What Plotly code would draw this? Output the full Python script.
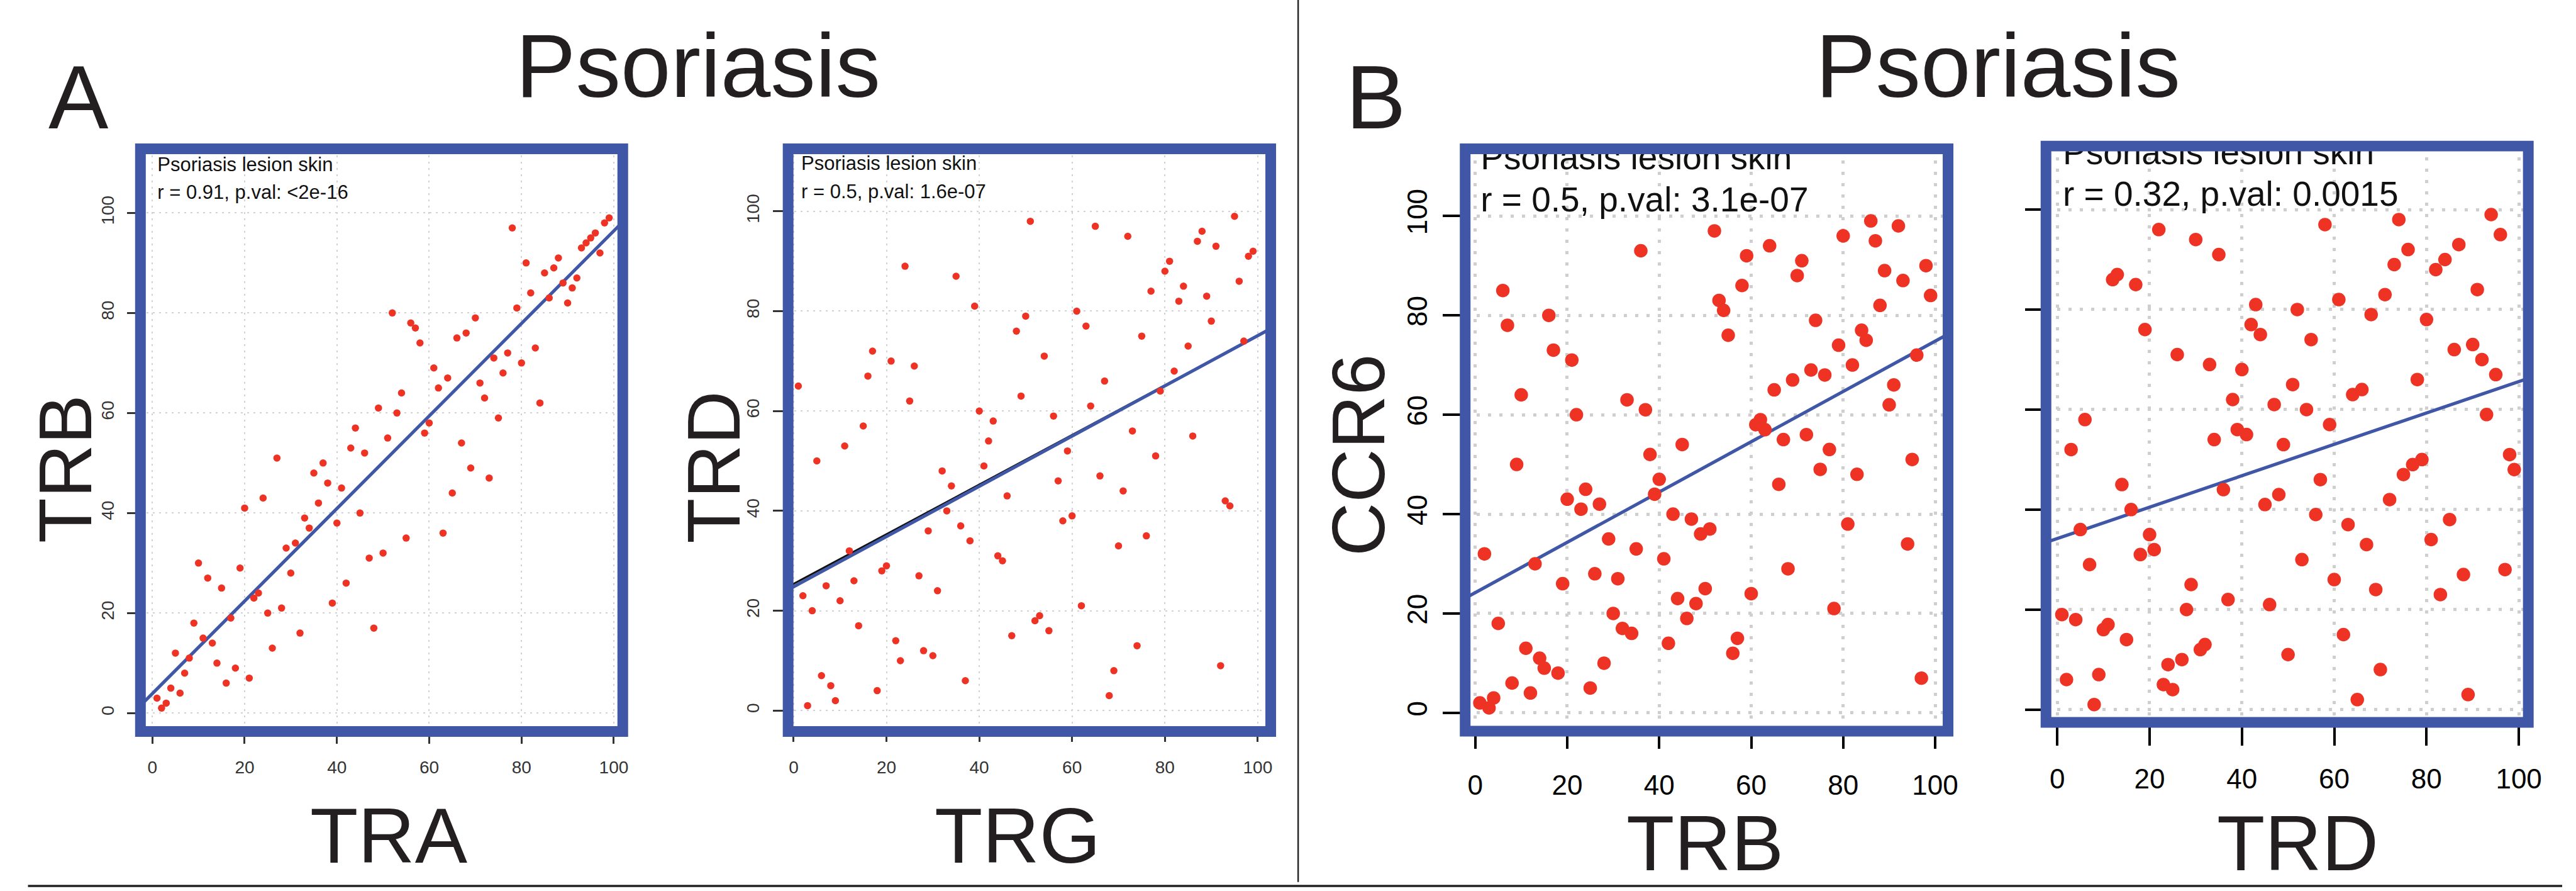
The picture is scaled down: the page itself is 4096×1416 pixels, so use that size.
import plotly.graph_objects as go

# ---------------- data (percentile ranks) ----------------
rank_x = [1, 2, 3, 4, 5, 6, 7, 8, 9, 10, 11, 12, 13, 14, 15, 16, 17, 18, 19, 20,
          21, 22, 23, 24, 25, 26, 27, 28, 29, 30, 31, 32, 33, 34, 35, 36, 37, 38, 39, 40,
          41, 42, 43, 44, 45, 46, 47, 48, 49, 50, 51, 52, 53, 54, 55, 56, 57, 58, 59, 60,
          61, 62, 63, 64, 65, 66, 67, 68, 69, 70, 71, 72, 73, 74, 75, 76, 77, 78, 79, 80,
          81, 82, 83, 84, 85, 86, 87, 88, 89, 90, 91, 92, 93, 94, 95, 96, 97, 98, 99]

trb_vs_tra = [3, 1, 2, 5, 12, 4, 8, 11, 18, 30, 15, 27, 14, 10, 25, 6, 19, 9, 29, 41,
              7, 23, 24, 43, 20, 13, 51, 21, 33, 28, 34, 16, 39, 37, 48, 42, 50, 46, 22, 38,
              45, 26, 53, 57, 40, 52, 31, 17, 61, 32, 55, 80, 60, 64, 35, 78, 77, 74, 56, 58,
              69, 65, 36, 67, 44, 75, 54, 76, 49, 79, 66, 63, 47, 71, 59, 68, 72, 97, 81, 70,
              90, 84, 73, 62, 88, 83, 89, 91, 86, 82, 85, 87, 93, 94, 95, 96, 92, 98, 99]

trd_vs_trg = [65, 23, 1, 20, 50, 7, 25, 5, 2, 22, 53, 32, 26, 17, 57, 67, 72, 4, 28, 29,
              70, 14, 10, 89, 62, 69, 27, 12, 36, 11, 24, 48, 40, 45, 87, 37, 6, 34, 81, 60,
              49, 54, 58, 31, 30, 43, 15, 76, 63, 79, 98, 18, 19, 71, 16, 59, 46, 38, 52, 39,
              80, 21, 77, 61, 97, 47, 66, 3, 8, 33, 44, 95, 56, 13, 75, 35, 84, 51, 64, 88,
              90, 68, 82, 85, 73, 55, 94, 96, 83, 78, 93, 9, 42, 41, 99, 86, 74, 91, 92]

ccr6_vs_trb = [2, 32, 1, 3, 18, 85, 78, 6, 50, 64, 13, 4, 30, 11, 9, 80, 73, 8, 26, 43,
               71, 60, 41, 45, 5, 28, 42, 10, 35, 20, 27, 17, 63, 16, 33, 93, 61, 52, 44, 47,
               31, 14, 40, 23, 54, 19, 39, 22, 36, 25, 37, 97, 83, 81, 76, 12, 15, 86, 92, 24,
               58, 59, 57, 94, 65, 46, 55, 29, 67, 88, 91, 56, 69, 79, 49, 68, 53, 21, 74, 96,
               38, 70, 48, 77, 75, 99, 95, 82, 89, 62, 66, 98, 87, 34, 51, 72, 7, 90, 84]

ccr6_vs_trd = [19, 6, 52, 18, 36, 58, 29, 1, 7, 16, 17, 86, 87, 45, 14, 40, 85, 31, 76, 35,
               32, 96, 5, 9, 4, 71, 10, 20, 25, 94, 12, 13, 69, 54, 91, 44, 22, 62, 56, 68,
               55, 77, 81, 75, 41, 21, 61, 43, 53, 11, 65, 80, 30, 60, 74, 39, 46, 97, 57, 26,
               82, 15, 37, 63, 2, 64, 33, 79, 24, 8, 83, 42, 89, 98, 47, 92, 49, 66, 50, 78,
               34, 88, 23, 90, 38, 72, 93, 27, 3, 73, 84, 70, 59, 99, 67, 95, 28, 51, 48]

# regression lines: (intercept, slope)
fit_tra_trb = [3.9, 0.925]
fit_trg_trd = [24.8, 0.503]
fit_trg_trd_under = [25.4, 0.497]
fit_trb_ccr6 = [24.2, 0.506]
fit_trd_ccr6 = [34.2, 0.314]

tick_vals = [0, 20, 40, 60, 80, 100]
tick_text = ["0", "20", "40", "60", "80", "100"]

header_title = "Psoriasis"
panel_letters = ["A", "B"]
cohort_label = "Psoriasis lesion skin"
stat_labels = ["r = 0.91, p.val: <2e-16", "r = 0.5, p.val: 1.6e-07",
               "r = 0.5, p.val: 3.1e-07", "r = 0.32, p.val: 0.0015"]
x_titles = ["TRA", "TRG", "TRB", "TRD"]
y_titles = ["TRB", "TRD", "CCR6", None]

# ---------------- geometry helpers (reference pixel -> paper) ----------------
RW, RH = 4579.0, 1583.0
S = 4096.0 / 4579.0
FONT = "Liberation Sans, Arial, Helvetica, sans-serif"
BLUE = "#3F57A6"
RED = "#EE3224"
INK = "#231F20"


def fx(x):
    return x / RW


def fy(y):
    return 1 - y / RH


# per panel: frame box (ref px, border centre line) and axis ranges
panels = [
    dict(x=rank_x, y=trb_vs_tra, box=(251, 264.5, 1113, 1299.5),
         xr=[-2.58, 101.95], yr=[-3.66, 112.8], fit=[fit_tra_trb], ms=11.5,
         tlx=18.3, tly=20.5, tw=2.7, tc="#333333", tf=28, tfc="#333333",
         sox=14, soy=10, gridw=1.8, griddash="3px,7px", gridc="#D2D2D2",
         txt_fs=31, txt_x=1.1, txt_y=[109.3, 103.8], showy=True),
    dict(x=rank_x, y=trd_vs_trg, box=(1408.5, 264.5, 2271, 1299.5),
         xr=[-1.19, 102.8], yr=[-4.17, 112.5], fit=[fit_trg_trd_under, fit_trg_trd], ms=11.5,
         tlx=15.6, tly=23, tw=2.7, tc="#333333", tf=28, tfc="#333333",
         sox=16, soy=11, gridw=1.8, griddash="3px,7px", gridc="#D2D2D2",
         txt_fs=31, txt_x=1.64, txt_y=[109.3, 103.55], showy=True),
    dict(x=rank_x, y=ccr6_vs_trb, box=(2618.5, 264.5, 3481.5, 1299),
         xr=[-2.19, 102.8], yr=[-3.68, 113.5], fit=[fit_trb_ccr6], ms=21.5,
         tlx=27.4, tly=34.4, tw=3.6, tc="#000000", tf=44, tfc="#000000",
         sox=20, soy=8, gridw=4.5, griddash="5px,13px", gridc="#CFCFCF",
         txt_fs=55, txt_x=1.16, txt_y=[111.1, 102.6], showy=True),
    dict(x=rank_x, y=ccr6_vs_trd, box=(3656.5, 259.5, 4518.5, 1283.5),
         xr=[-2.44, 102.05], yr=[-2.57, 112.7], fit=[fit_trd_ccr6], ms=21.5,
         tlx=36.2, tly=32.6, tw=3.6, tc="#000000", tf=44, tfc="#000000",
         sox=15, soy=24, gridw=4.5, griddash="5px,13px", gridc="#CFCFCF",
         txt_fs=55, txt_x=1.2, txt_y=[110.8, 102.5], showy=False),
]

fig = go.Figure()
layout_axes = {}
shapes = []

for i, p in enumerate(panels, start=1):
    xa = "x" if i == 1 else "x%d" % i
    ya = "y" if i == 1 else "y%d" % i
    x0, y0, x1, y1 = p["box"]

    # fit lines (drawn through the axis scale)
    for k, (b0, b1) in enumerate(p["fit"]):
        xs = [p["xr"][0] - 5, p["xr"][1] + 5]
        ys = [b0 + b1 * v for v in xs]
        under = (len(p["fit"]) == 2 and k == 0)
        fig.add_trace(go.Scatter(
            x=xs, y=ys, mode="lines", xaxis=xa, yaxis=ya, hoverinfo="skip",
            line=dict(color="#111111" if under else BLUE, width=3 if under else 5.2)))

    # points
    fig.add_trace(go.Scatter(
        x=p["x"], y=p["y"], mode="markers", xaxis=xa, yaxis=ya, hoverinfo="skip",
        marker=dict(color=RED, size=p["ms"], line=dict(width=0)), cliponaxis=True))

    # in-panel text (clipped by the plotting region like the original)
    fig.add_trace(go.Scatter(
        x=[p["txt_x"], p["txt_x"]], y=p["txt_y"], mode="text",
        text=[cohort_label, stat_labels[i - 1]], textposition="middle right",
        textfont=dict(family=FONT, size=p["txt_fs"], color="#111111"),
        xaxis=xa, yaxis=ya, hoverinfo="skip", cliponaxis=True))

    common = dict(showline=False, zeroline=False, showgrid=True, gridcolor=p["gridc"],
                  gridwidth=p["gridw"], griddash=p["griddash"], tickmode="array",
                  tickvals=tick_vals, ticktext=tick_text, ticks="outside",
                  tickwidth=p["tw"], tickcolor=p["tc"], fixedrange=True,
                  tickfont=dict(family=FONT, size=p["tf"], color=p["tfc"]))
    layout_axes["xaxis" if i == 1 else "xaxis%d" % i] = dict(
        common, domain=[fx(x0), fx(x1)], range=p["xr"], anchor=ya,
        ticklen=p["tlx"], ticklabelstandoff=p["sox"])
    layout_axes["yaxis" if i == 1 else "yaxis%d" % i] = dict(
        common, domain=[fy(y1), fy(y0)], range=p["yr"], anchor=xa,
        ticklen=p["tly"], tickangle=-90, showticklabels=p["showy"],
        ticklabelstandoff=p["soy"])

    # heavy blue frame
    shapes.append(dict(type="rect", xref="%s domain" % xa, yref="%s domain" % ya,
                       x0=0, x1=1, y0=0, y1=1, layer="above",
                       line=dict(color=BLUE, width=19 * S), fillcolor="rgba(0,0,0,0)"))

# divider and bottom rule
shapes.append(dict(type="line", xref="paper", yref="paper", x0=fx(2320), x1=fx(2320),
                   y0=fy(1567), y1=1, line=dict(color=INK, width=2.4)))
shapes.append(dict(type="line", xref="paper", yref="paper", x0=fx(50), x1=1,
                   y0=fy(1574), y1=fy(1574), line=dict(color=INK, width=4 * S)))

annotations = []


def add_text(text, xc, baseline, fs_out, angle=0):
    fs_ref = fs_out / S
    if angle == 0:
        yc = baseline - 0.3465 * fs_ref
        annotations.append(dict(text=text, x=fx(xc), y=fy(yc), xref="paper", yref="paper",
                                xanchor="center", yanchor="middle", showarrow=False,
                                font=dict(family=FONT, size=fs_out, color=INK)))
    else:
        annotations.append(dict(text=text, x=fx(xc), y=fy(baseline), xref="paper",
                                yref="paper", xanchor="center", yanchor="middle",
                                showarrow=False, textangle=angle,
                                font=dict(family=FONT, size=fs_out, color=INK)))


# headers
add_text(header_title, 1248, 172, 143)
add_text(header_title, 3571, 172, 143)
add_text(panel_letters[0], 140, 228, 143)
add_text(panel_letters[1], 2459, 228, 143)

# x-axis titles (centre x, baseline)
add_text(x_titles[0], 695, 1532, 125)
add_text(x_titles[1], 1819, 1532, 125)
add_text(x_titles[2], 3047, 1546, 125)
add_text(x_titles[3], 4106, 1546, 125)

# y-axis titles (centre x, centre y), rotated
add_text(y_titles[0], 117, 833, 118, angle=-90)
add_text(y_titles[1], 1276, 830, 118, angle=-90)
add_text(y_titles[2], 2427, 809, 118, angle=-90)

fig.update_layout(
    width=4096, height=1416, margin=dict(l=0, r=0, t=0, b=0),
    paper_bgcolor="white", plot_bgcolor="white", showlegend=False,
    shapes=shapes, annotations=annotations, **layout_axes)

fig.write_html("out.html")
